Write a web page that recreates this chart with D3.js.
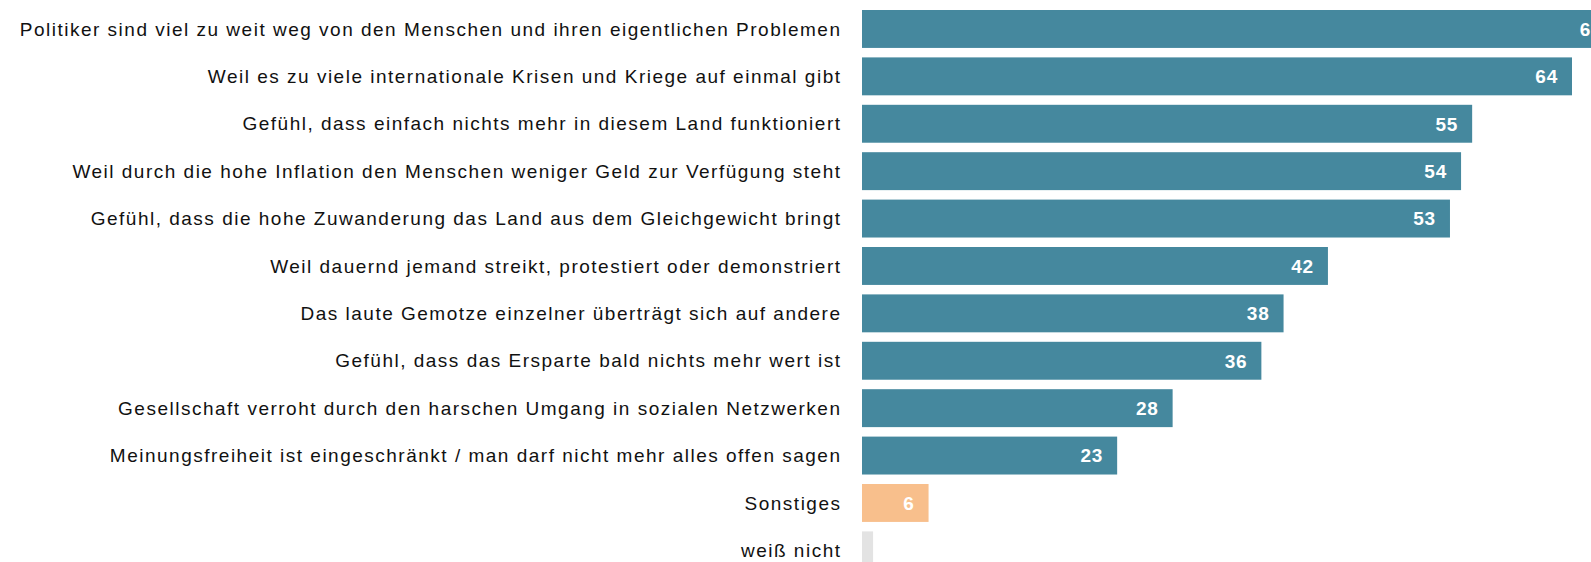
<!DOCTYPE html>
<html>
<head>
<meta charset="utf-8">
<script src="https://cdn.jsdelivr.net/npm/d3@7"></script>
<style>
  body { margin: 0; background: #fff; overflow: hidden; }
  .label { font-family: "Liberation Sans", Arial, sans-serif; font-size: 19px; letter-spacing: 1.5px; fill: #111; }
  .value { font-family: "Liberation Sans", Arial, sans-serif; font-size: 19px; font-weight: bold; letter-spacing: 0.8px; fill: #fff; }
</style>
</head>
<body>
<div id="chart"></div>
<script>
// Daten
var categories = [
  "Politiker sind viel zu weit weg von den Menschen und ihren eigentlichen Problemen",
  "Weil es zu viele internationale Krisen und Kriege auf einmal gibt",
  "Gefühl, dass einfach nichts mehr in diesem Land funktioniert",
  "Weil durch die hohe Inflation den Menschen weniger Geld zur Verfügung steht",
  "Gefühl, dass die hohe Zuwanderung das Land aus dem Gleichgewicht bringt",
  "Weil dauernd jemand streikt, protestiert oder demonstriert",
  "Das laute Gemotze einzelner überträgt sich auf andere",
  "Gefühl, dass das Ersparte bald nichts mehr wert ist",
  "Gesellschaft verroht durch den harschen Umgang in sozialen Netzwerken",
  "Meinungsfreiheit ist eingeschränkt / man darf nicht mehr alles offen sagen",
  "Sonstiges",
  "weiß nicht"
];
var values = [68, 64, 55, 54, 53, 42, 38, 36, 28, 23, 6, 1];
var groups = ["main", "main", "main", "main", "main", "main", "main", "main", "main", "main", "other", "dk"];

var width = 1591;
var height = 562;
var barLeft = 862;
var labelRight = 840;
var topY = 10;
var step = 47.4;
var pad = 0.2;

var colors = { main: "#45889e", other: "#f8bf8c", dk: "#e3e3e3" };

var svg = d3.select("#chart")
  .append("svg")
  .attr("width", width)
  .attr("height", height);

var xScale = d3.scaleLinear()
  .domain([0, 64])
  .range([barLeft, 1572]);

// band step = step, so range length = step * (n - paddingInner)
var yScale = d3.scaleBand()
  .domain(categories)
  .range([topY, topY + step * (categories.length - pad)])
  .paddingInner(pad)
  .paddingOuter(0);

var rows = svg.selectAll("g.row")
  .data(categories)
  .enter()
  .append("g")
  .attr("class", "row");

rows.append("rect")
  .attr("x", xScale(0))
  .attr("y", function(d) { return yScale(d); })
  .attr("width", function(d, i) { return xScale(values[i]) - xScale(0); })
  .attr("height", yScale.bandwidth())
  .attr("fill", function(d, i) { return colors[groups[i]]; });

rows.append("text")
  .attr("class", "label")
  .attr("x", labelRight + 1.5)
  .attr("y", function(d) { return yScale(d) + yScale.bandwidth() / 2; })
  .attr("dy", "0.35em")
  .attr("text-anchor", "end")
  .text(function(d) { return d; });

rows.filter(function(d, i) { return values[i] >= 3; })
  .append("text")
  .attr("class", "value")
  .attr("x", function(d) { return xScale(values[categories.indexOf(d)]) - 14; })
  .attr("y", function(d) { return yScale(d) + yScale.bandwidth() / 2; })
  .attr("dy", "0.36em")
  .attr("text-anchor", "end")
  .text(function(d) { return values[categories.indexOf(d)]; });
</script>
</body>
</html>
